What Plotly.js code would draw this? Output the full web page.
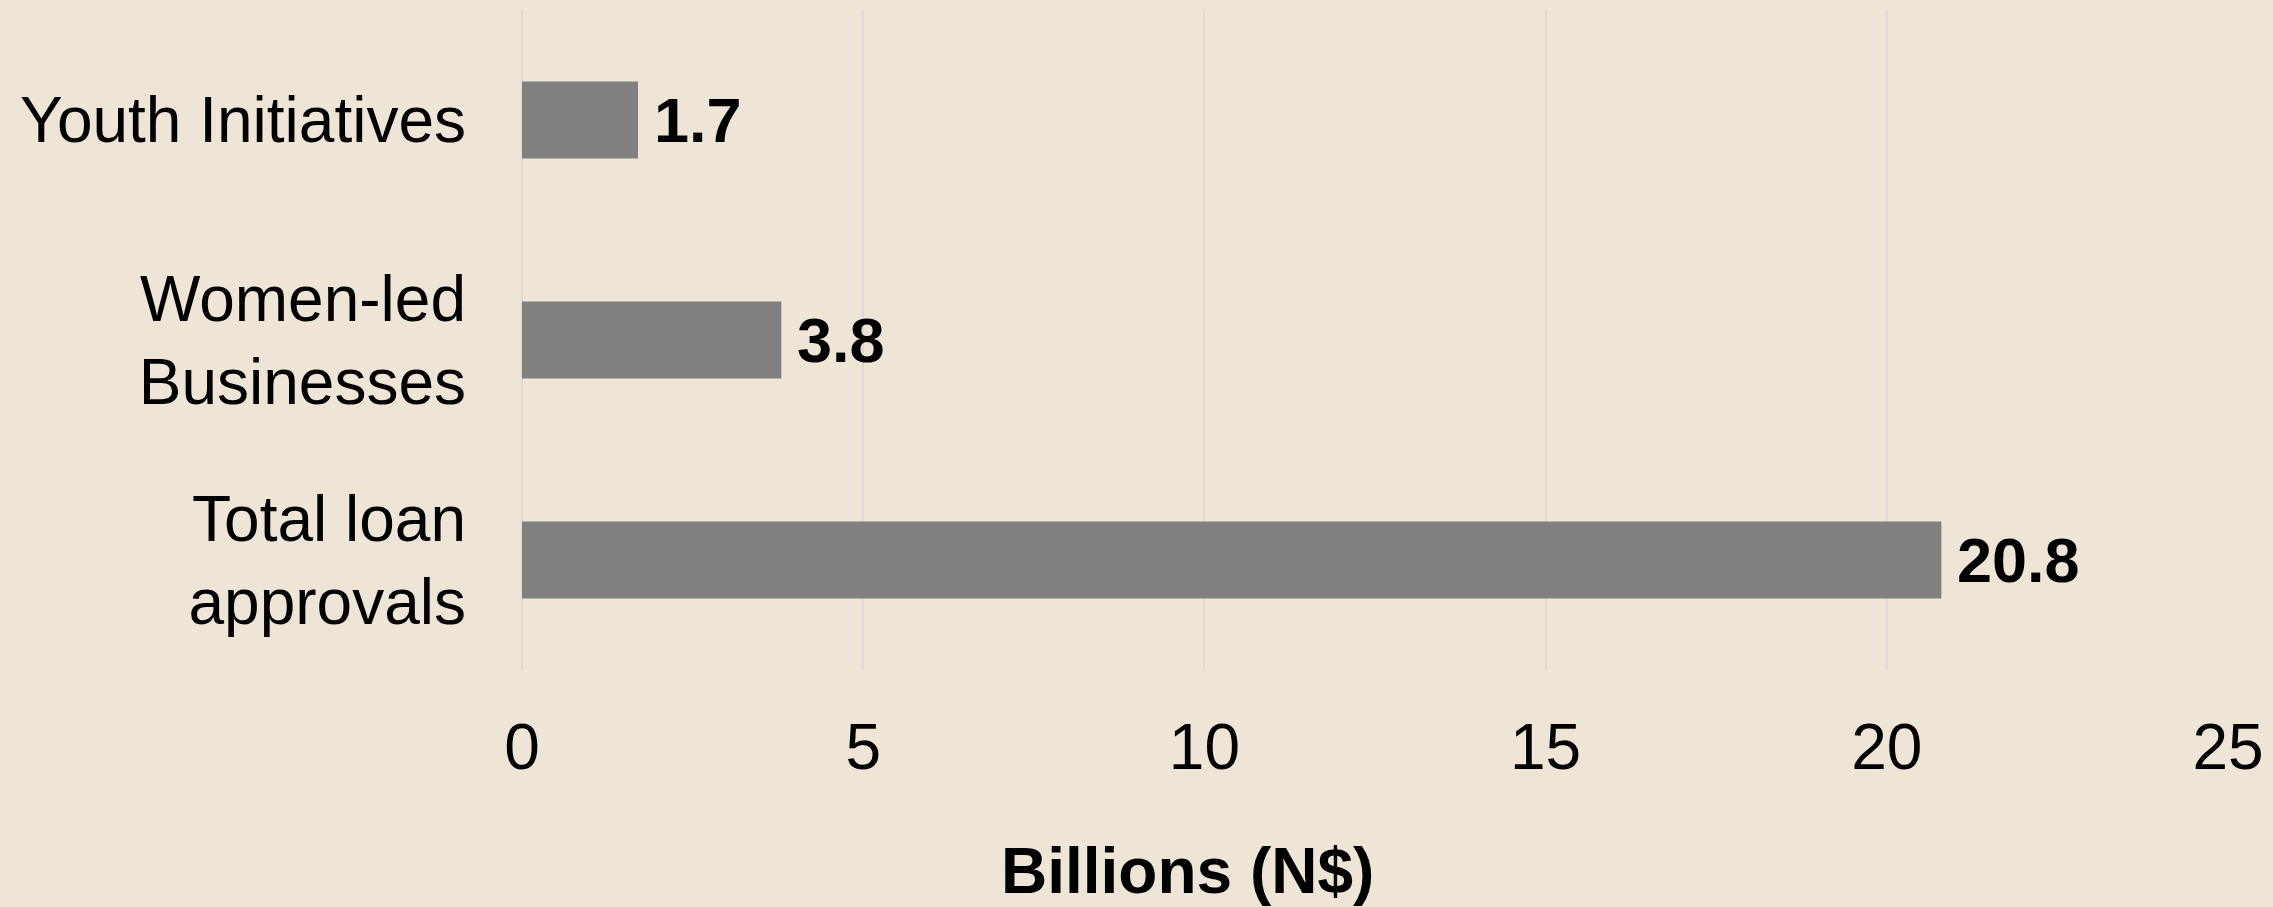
<!DOCTYPE html>
<html>
<head>
<meta charset="utf-8">
<script src="https://cdn.plot.ly/plotly-3.0.1.min.js"></script>
<style>html,body{margin:0;padding:0;background:#EEE5D7;}</style>
</head>
<body>
<div id="chart" style="width:2273px;height:907px;"></div>
<script>
const categories = ["Total loan<br>approvals", "Women-led<br>Businesses", "Youth Initiatives"];
const values = [20.8, 3.8, 1.7];
const valueLabels = ["20.8", "3.8", "1.7"];
const xTickValues = [0, 5, 10, 15, 20, 25];
const xTickLabels = ["0", "5", "10", "15", "20", "25"];
const axisTitle = "Billions (N$)";

const FONT = "Liberation Sans, Arial, Helvetica, sans-serif";

const trace = {
  type: "bar",
  orientation: "h",
  x: values,
  y: categories,
  width: 0.35,
  marker: {color: "#808080", line: {width: 0}},
  hoverinfo: "x+y"
};

const annotations = values.map((v, i) => ({
  x: v, y: categories[i], xref: "x", yref: "y",
  text: "<b>" + valueLabels[i] + "</b>",
  showarrow: false, xanchor: "left", yanchor: "middle", xshift: 14,
  font: {family: FONT, size: 63, color: "#000000"}
}));
annotations.push({
  x: 0.39, y: -0.305, xref: "paper", yref: "paper",
  text: "<b>" + axisTitle + "</b>",
  showarrow: false, xanchor: "center", yanchor: "middle",
  font: {family: FONT, size: 64, color: "#000000"}
});

const layout = {
  width: 2273, height: 907,
  margin: {l: 522, r: 45, t: 10, b: 237, pad: 0},
  paper_bgcolor: "#EEE5D7",
  plot_bgcolor: "#EEE5D7",
  showlegend: false,
  font: {family: FONT, size: 64, color: "#000000"},
  xaxis: {
    range: [0, 25],
    tickvals: xTickValues,
    ticktext: xTickLabels,
    showgrid: true, gridcolor: "#DCDAD5", gridwidth: 2,
    zeroline: true, zerolinecolor: "#DCDAD5", zerolinewidth: 2,
    showline: false,
    ticks: "", ticklabelstandoff: 34,
    tickfont: {family: FONT, size: 64, color: "#000000"},
    fixedrange: true
  },
  yaxis: {
    type: "category",
    categoryorder: "array", categoryarray: categories,
    range: [-0.5, 2.5],
    showgrid: false, zeroline: false, showline: false,
    ticks: "", ticklabelstandoff: 55,
    tickfont: {family: FONT, size: 64, color: "#000000"},
    fixedrange: true
  },
  annotations: annotations,
  bargap: 0.65
};

Plotly.newPlot("chart", [trace], layout, {displayModeBar: false, staticPlot: true});
</script>
</body>
</html>
